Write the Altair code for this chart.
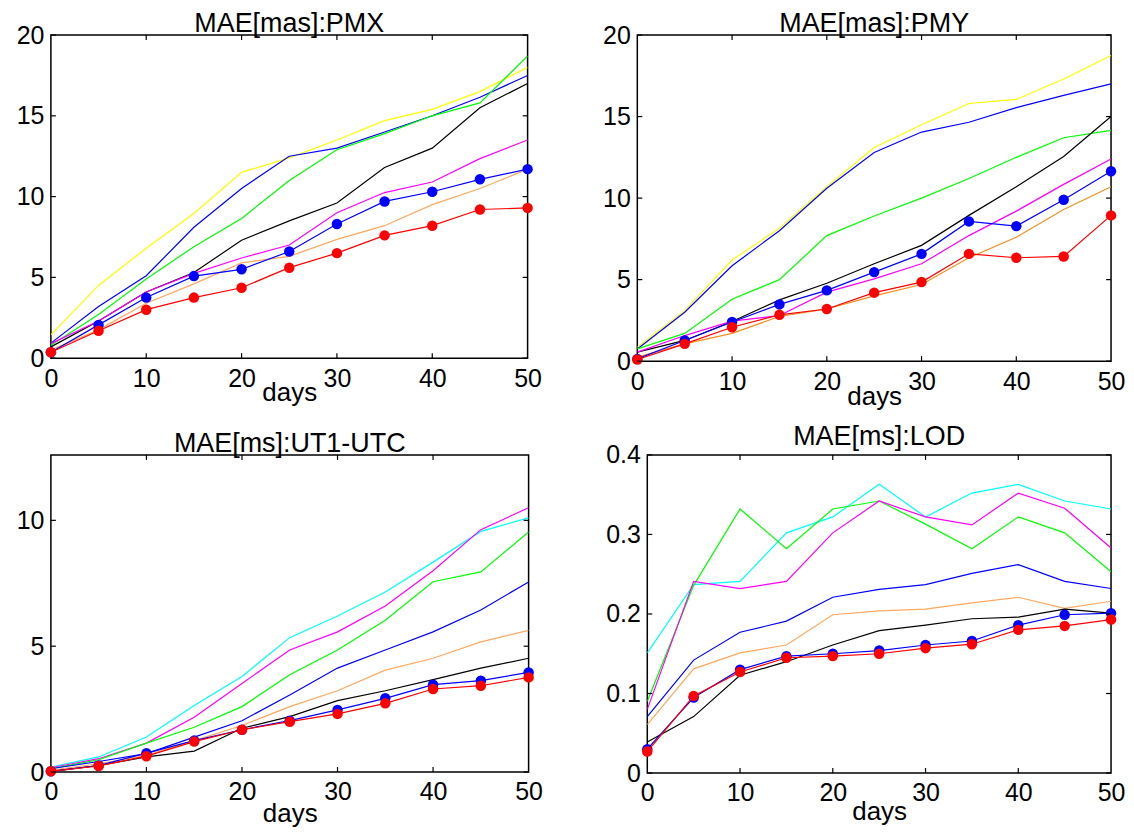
import altair as alt
import pandas as pd

days = [0, 5, 10, 15, 20, 25, 30, 35, 40, 45, 50]

# ---- PMX ----
pmx_yellow = [1.44, 4.5, 6.8, 8.95, 11.5, 12.4, 13.5, 14.7, 15.4, 16.5, 18.0]
pmx_blue = [0.93, 3.2, 5.1, 8.1, 10.5, 12.5, 13.0, 14.0, 15.0, 16.15, 17.5]
pmx_green = [0.8, 2.7, 4.9, 6.9, 8.65, 11.0, 12.9, 13.9, 15.0, 15.8, 18.7]
pmx_black = [0.7, 2.3, 4.1, 5.3, 7.3, 8.5, 9.6, 11.8, 13.0, 15.5, 17.0]
pmx_magenta = [0.9, 2.3, 4.1, 5.25, 6.2, 7.0, 9.0, 10.25, 10.9, 12.35, 13.5]
pmx_orange = [0.5, 1.75, 3.4, 4.6, 5.9, 6.3, 7.35, 8.2, 9.5, 10.5, 11.7]
pmx_bluedot = [0.37, 2.06, 3.75, 5.08, 5.5, 6.6, 8.3, 9.7, 10.3, 11.07, 11.7]
pmx_reddot = [0.37, 1.7, 3.0, 3.75, 4.36, 5.6, 6.5, 7.6, 8.2, 9.2, 9.3]

# ---- PMY ----
pmy_yellow = [0.85, 3.1, 6.2, 8.15, 10.7, 13.1, 14.5, 15.8, 16.05, 17.3, 18.75]
pmy_blue = [0.75, 3.0, 5.85, 8.0, 10.6, 12.8, 14.05, 14.65, 15.55, 16.3, 17.0]
pmy_green = [0.75, 1.7, 3.8, 5.0, 7.7, 8.9, 10.0, 11.2, 12.5, 13.7, 14.15]
pmy_black = [0.55, 1.27, 2.43, 3.76, 4.78, 5.97, 7.1, 8.94, 10.7, 12.55, 15.0]
pmy_magenta = [0.55, 1.57, 2.45, 2.8, 4.23, 5.05, 5.97, 7.7, 9.2, 10.84, 12.4]
pmy_orange = [0.25, 1.06, 1.7, 2.74, 3.2, 4.0, 4.7, 6.34, 7.6, 9.3, 10.7]
pmy_bluedot = [0.14, 1.27, 2.4, 3.48, 4.34, 5.46, 6.58, 8.57, 8.28, 9.9, 11.65]
pmy_reddot = [0.1, 1.06, 2.08, 2.84, 3.2, 4.2, 4.85, 6.58, 6.34, 6.42, 8.94]

# ---- UT1-UTC ----
ut1_cyan = [0.2, 0.6, 1.39, 2.64, 3.8, 5.34, 6.2, 7.15, 8.34, 9.56, 10.1]
ut1_magenta = [0.17, 0.53, 1.15, 2.18, 3.52, 4.85, 5.57, 6.6, 8.0, 9.63, 10.5]
ut1_green = [0.13, 0.49, 1.15, 1.78, 2.6, 3.87, 4.85, 6.03, 7.56, 7.95, 9.54]
ut1_blue = [0.13, 0.42, 0.73, 1.39, 2.04, 3.06, 4.13, 4.85, 5.57, 6.44, 7.55]
ut1_orange = [0.07, 0.33, 0.66, 1.25, 1.85, 2.6, 3.23, 4.05, 4.52, 5.17, 5.63]
ut1_black = [0.03, 0.26, 0.6, 0.83, 1.74, 2.2, 2.84, 3.23, 3.67, 4.13, 4.52]
ut1_bluedot = [0.03, 0.26, 0.75, 1.25, 1.68, 2.04, 2.47, 2.93, 3.47, 3.63, 3.96]
ut1_reddot = [0.03, 0.24, 0.63, 1.21, 1.68, 2.0, 2.31, 2.73, 3.3, 3.43, 3.76]

# ---- LOD ----
lod_cyan = [0.151, 0.237, 0.241, 0.302, 0.322, 0.363, 0.322, 0.352, 0.363, 0.342, 0.332]
lod_green = [0.09, 0.236, 0.332, 0.282, 0.332, 0.342, 0.313, 0.282, 0.322, 0.302, 0.253]
lod_magenta = [0.08, 0.241, 0.232, 0.241, 0.302, 0.342, 0.322, 0.312, 0.352, 0.333, 0.283]
lod_blue = [0.071, 0.142, 0.177, 0.191, 0.221, 0.231, 0.237, 0.251, 0.262, 0.241, 0.232]
lod_orange = [0.061, 0.131, 0.151, 0.161, 0.199, 0.204, 0.206, 0.214, 0.221, 0.207, 0.216]
lod_black = [0.039, 0.071, 0.123, 0.140, 0.161, 0.179, 0.186, 0.194, 0.196, 0.206, 0.201]
lod_bluedot = [0.030, 0.095, 0.13, 0.147, 0.15, 0.154, 0.161, 0.166, 0.186, 0.199, 0.201]
lod_reddot = [0.027, 0.097, 0.127, 0.145, 0.147, 0.150, 0.157, 0.162, 0.180, 0.185, 0.193]

x_ticks = [0, 10, 20, 30, 40, 50]
pm_ticks = [0, 5, 10, 15, 20]
ut1_ticks = [0, 5, 10]
lod_ticks = [0, 0.1, 0.2, 0.3, 0.4]

titles = ["MAE[mas]:PMX", "MAE[mas]:PMY", "MAE[ms]:UT1-UTC", "MAE[ms]:LOD"]

FONT = "Liberation Sans"
LIGHT_ORANGE = "#FFA860"
DARK_ORANGE = "#F39020"


def panel(title, series, ydomain, yticks, yfmt, w, h, days_y, title_gap):
    xs = alt.Scale(domain=[0, 50], nice=False, zero=False)
    ys = alt.Scale(domain=ydomain, nice=False, zero=False)
    xaxis = alt.Axis(values=x_ticks, title="days", grid=False, domain=False,
                     tickSize=0, labelPadding=8, labelFontSize=25, labelFont=FONT,
                     labelColor="black", titleFont=FONT, titleFontSize=26,
                     titleFontWeight="normal", titleColor="black",
                     titleX=w / 2, titleY=days_y, titleBaseline="alphabetic",
                     titleAlign="center", format="d",
                     labelFlush=False, labelOverlap=False)
    yaxis = alt.Axis(values=yticks, title=None, grid=False, domain=False,
                     tickSize=0, labelPadding=7, labelFontSize=25, labelFont=FONT,
                     labelColor="black", format=yfmt, labelFlush=False,
                     labelOverlap=False)

    def X(field):
        return alt.X(field, scale=xs, axis=xaxis)

    def Y(field):
        return alt.Y(field, scale=ys, axis=yaxis)

    layers = []
    for name, vals, color, dots in series:
        df = pd.DataFrame({"day": days, "v": vals})
        base = alt.Chart(df)
        layers.append(base.mark_line(color=color, strokeWidth=1.2, clip=True)
                      .encode(x=X("day:Q"), y=Y("v:Q")))
        if dots:
            layers.append(base.mark_circle(color=color, size=110, opacity=1)
                          .encode(x=X("day:Q"), y=Y("v:Q")))
    # inward tick marks (MATLAB style box)
    xt = alt.Chart(pd.DataFrame({"day": x_ticks[1:-1]}))
    yt = alt.Chart(pd.DataFrame({"v": yticks}))
    tk = dict(color="black", strokeWidth=1.2)
    layers.append(xt.mark_rule(**tk).encode(x=X("day:Q"), y=alt.value(h), y2=alt.value(h - 5)))
    layers.append(xt.mark_rule(**tk).encode(x=X("day:Q"), y=alt.value(0), y2=alt.value(5)))
    layers.append(yt.mark_rule(**tk).encode(y=Y("v:Q"), x=alt.value(0), x2=alt.value(5)))
    layers.append(yt.mark_rule(**tk).encode(y=Y("v:Q"), x=alt.value(w), x2=alt.value(w - 5)))
    # panel title
    layers.append(
        alt.Chart(pd.DataFrame({"t": [title]}))
        .mark_text(font=FONT, fontSize=27, color="black", align="center",
                   baseline="alphabetic")
        .encode(text="t:N", x=alt.value(w / 2), y=alt.value(-title_gap))
    )
    return alt.layer(*layers).properties(width=w, height=h)


p1 = panel(titles[0], [
    ("yellow", pmx_yellow, "#FFFF00", False),
    ("blue", pmx_blue, "#0000FF", False),
    ("green", pmx_green, "#00FF00", False),
    ("black", pmx_black, "#000000", False),
    ("magenta", pmx_magenta, "#FF00FF", False),
    ("orange", pmx_orange, LIGHT_ORANGE, False),
    ("bluedot", pmx_bluedot, "#0000FF", True),
    ("reddot", pmx_reddot, "#FF0000", True),
], [0, 20], pm_ticks, "d", 478, 324, 42, 3)

p2 = panel(titles[1], [
    ("yellow", pmy_yellow, "#FFFF00", False),
    ("blue", pmy_blue, "#0000FF", False),
    ("green", pmy_green, "#00FF00", False),
    ("black", pmy_black, "#000000", False),
    ("magenta", pmy_magenta, "#FF00FF", False),
    ("orange", pmy_orange, DARK_ORANGE, False),
    ("bluedot", pmy_bluedot, "#0000FF", True),
    ("reddot", pmy_reddot, "#FF0000", True),
], [0, 20], pm_ticks, "d", 475, 327, 43, 3)

p3 = panel(titles[2], [
    ("cyan", ut1_cyan, "#00FFFF", False),
    ("magenta", ut1_magenta, "#FF00FF", False),
    ("green", ut1_green, "#00FF00", False),
    ("blue", ut1_blue, "#0000FF", False),
    ("orange", ut1_orange, LIGHT_ORANGE, False),
    ("black", ut1_black, "#000000", False),
    ("bluedot", ut1_bluedot, "#0000FF", True),
    ("reddot", ut1_reddot, "#FF0000", True),
], [0, 12.6], ut1_ticks, "d", 479, 318, 50, 3)

p4 = panel(titles[3], [
    ("cyan", lod_cyan, "#00FFFF", False),
    ("green", lod_green, "#00FF00", False),
    ("magenta", lod_magenta, "#FF00FF", False),
    ("blue", lod_blue, "#0000FF", False),
    ("orange", lod_orange, LIGHT_ORANGE, False),
    ("black", lod_black, "#000000", False),
    ("bluedot", lod_bluedot, "#0000FF", True),
    ("reddot", lod_reddot, "#FF0000", True),
], [0, 0.4], lod_ticks, ".1~f", 465, 319, 47, 10)

row1 = alt.hconcat(p1, p2, spacing=59)
row2 = alt.hconcat(p3, p4, spacing=61)
chart = alt.vconcat(row1, row2, spacing=12).properties(
    padding={"left": 7, "top": 0, "right": 0, "bottom": 0}
).configure_view(stroke="black", strokeWidth=1.5)

chart.save("out.html", embed_options={"renderer": "svg", "actions": False})
